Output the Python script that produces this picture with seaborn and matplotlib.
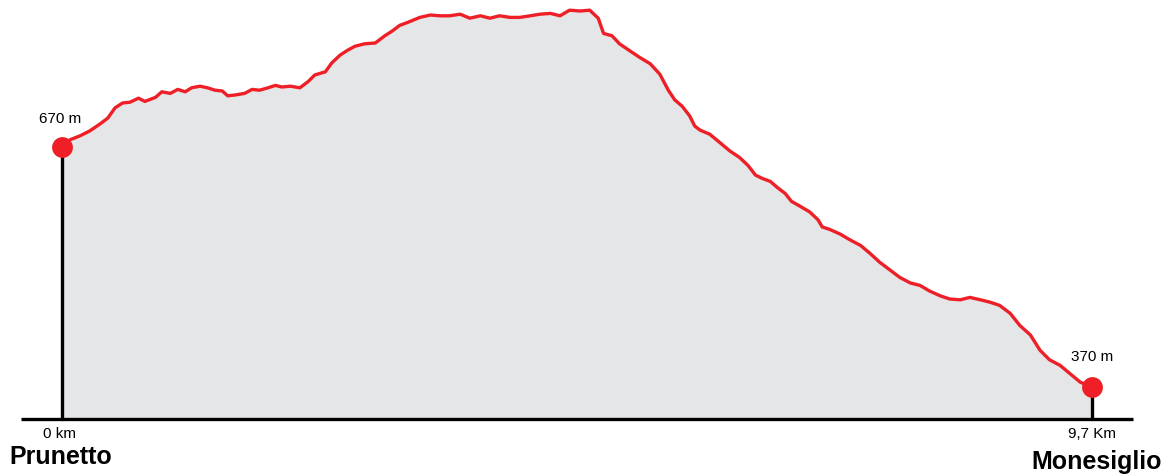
import seaborn as sns
import matplotlib.pyplot as plt
import pandas as pd

# distance (km) and elevation (m)
km = [0.00, 0.075, 0.17, 0.26, 0.36, 0.43, 0.50, 0.57, 0.64, 0.72, 0.78, 0.88, 0.94, 1.02,
      1.09, 1.16, 1.22, 1.30, 1.37, 1.44, 1.51, 1.56, 1.63, 1.72, 1.79, 1.86, 1.94, 2.01,
      2.07, 2.15, 2.24, 2.32, 2.38, 2.48, 2.54, 2.62, 2.69, 2.76, 2.85, 2.95, 3.04, 3.11,
      3.18, 3.26, 3.37, 3.47, 3.56, 3.65, 3.75, 3.84, 3.94, 4.03, 4.12, 4.22, 4.31, 4.41,
      4.50, 4.60, 4.69, 4.78, 4.88, 4.97, 5.05, 5.10, 5.18, 5.25, 5.35, 5.44, 5.54, 5.63,
      5.71, 5.77, 5.84, 5.91, 5.96, 6.01, 6.10, 6.20, 6.29, 6.38, 6.46, 6.53, 6.59, 6.67,
      6.74, 6.81, 6.87, 6.95, 7.04, 7.12, 7.16, 7.23, 7.33, 7.42, 7.52, 7.61, 7.70, 7.80,
      7.89, 7.99, 8.08, 8.17, 8.27, 8.36, 8.46, 8.55, 8.65, 8.74, 8.83, 8.93, 9.02, 9.12,
      9.21, 9.30, 9.40, 9.49, 9.59, 9.70]
elev = [670, 679, 684, 690, 699, 706, 719, 725, 726, 731, 727, 732, 739, 737,
        742, 739, 744, 746, 744, 741, 740, 734, 735, 737, 742, 741, 744, 747,
        745, 746, 744, 752, 760, 764, 775, 785, 791, 796, 799, 800, 809, 815,
        822, 826, 832, 835, 834, 834, 836, 831, 834, 831, 834, 832, 832, 834,
        836, 837, 834, 841, 840, 841, 831, 812, 809, 799, 790, 782, 774, 761,
        741, 729, 721, 709, 696, 691, 686, 675, 665, 657, 647, 635, 631, 627,
        619, 612, 602, 596, 589, 579, 570, 567, 561, 554, 547, 537, 526, 516,
        507, 500, 497, 490, 484, 480, 479, 482, 479, 476, 472, 462, 447, 435,
        416, 404, 397, 387, 376, 370]

base_elev = 330
start_name, end_name = "Prunetto", "Monesiglio"
start_label, end_label = "670 m", "370 m"
dist_start, dist_end = "0 km", "9,7 Km"

df = pd.DataFrame({"km": km, "elev": elev})

sns.set_style("white")
plt.rcParams['font.family'] = ['Liberation Sans', 'DejaVu Sans']
plt.rcParams['text.color'] = 'black'

fig = plt.figure(figsize=(11.66, 4.74), dpi=100)
ax = fig.add_axes([0, 0, 1, 1])

red = "#ee1f26"
ax.fill_between(df["km"], base_elev, df["elev"], color="#e5e6e8", lw=0, zorder=1)
sns.lineplot(data=df, x="km", y="elev", color=red, lw=2.4, ax=ax, zorder=3)

# baseline and end posts
ax.plot([-0.39, 10.09], [base_elev, base_elev], color="black", lw=2.4, zorder=2,
        solid_capstyle="butt")
ax.plot([km[0], km[0]], [base_elev, elev[0]], color="black", lw=2.4, zorder=2)
ax.plot([km[-1], km[-1]], [base_elev, elev[-1]], color="black", lw=2.4, zorder=2)
ax.plot([km[0], km[-1]], [elev[0], elev[-1]], "o", color=red, ms=15, mec="none", zorder=4)

ax.text(km[0] - 0.02, elev[0] + 35, start_label, ha="center", va="center", fontsize=11)
ax.text(km[-1], elev[-1] + 38, end_label, ha="center", va="center", fontsize=11)
ax.text(km[0] - 0.02, 311, dist_start, ha="center", va="center", fontsize=11)
ax.text(km[-1], 311, dist_end, ha="center", va="center", fontsize=11)
ax.text(-0.50, 282, start_name, ha="left", va="center", fontsize=18, fontweight="bold")
ax.text(10.36, 276, end_name, ha="right", va="center", fontsize=18, fontweight="bold")

ax.set_xlim(-0.584, 10.397)
ax.set_ylim(261.25, 853.75)
ax.set_axis_off()

fig.savefig("out.png", dpi=100)
